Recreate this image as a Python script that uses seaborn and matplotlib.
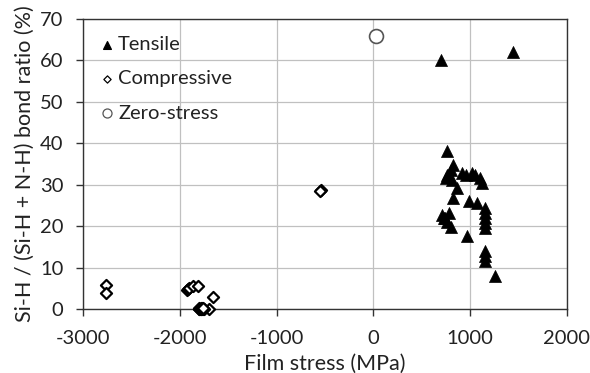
import matplotlib
matplotlib.use("Agg")
import matplotlib.pyplot as plt
import seaborn as sns
import pandas as pd

# Tensile
tensile_x = [700, 1440, 764, 824, 797, 764, 747, 916, 1017, 1051, 1101, 1118, 814,
             865, 824, 983, 1068, 1152, 1152, 1152, 1152, 1152, 713, 780, 730, 764,
             797, 966, 1152, 1152, 1152, 1253, 960, 740]
tensile_y = [60, 62, 38.2, 34.8, 33.6, 32.4, 31.6, 32.8, 32.8, 32.4, 31.6, 30.5, 31.2,
             29.2, 26.7, 26.0, 25.5, 24.3, 23.1, 22.0, 20.8, 19.5, 22.7, 23.1, 21.9, 21.1,
             19.9, 17.7, 14.1, 12.9, 11.6, 7.9, 32.4, 22.0]
# Compressive
comp_x = [-2766, -2766, -1928, -1915, -1900, -1866, -1814, -1653, -1695,
          -1805, -1797, -1790, -1783, -1776, -1769, -1762, -1755,
          -1800, -1786, -1772, -1758, -545, -555]
comp_y = [5.7, 3.9, 4.5, 4.9, 5.1, 5.5, 5.5, 2.9, 0.0,
          0.0, 0.0, 0.0, 0.0, 0.0, 0.0, 0.0, 0.0,
          0.3, 0.3, 0.3, 0.3, 28.8, 28.6]
# Zero-stress
zero_x = [30]
zero_y = [66]

x_ticks = [-3000, -2000, -1000, 0, 1000, 2000]
y_ticks = [0, 10, 20, 30, 40, 50, 60, 70]

sns.set_theme(style="white")
plt.rcParams['font.family'] = ['Lato', 'DejaVu Sans']
plt.rcParams['axes.unicode_minus'] = False

fig = plt.figure(figsize=(5.9, 3.73), dpi=100)
ax = fig.add_axes([83 / 590, 1 - 309 / 373, (567 - 83) / 590, (309 - 19) / 373])

df_t = pd.DataFrame({"x": tensile_x, "y": tensile_y})
df_c = pd.DataFrame({"x": comp_x, "y": comp_y})
df_z = pd.DataFrame({"x": zero_x, "y": zero_y})

sns.scatterplot(data=df_t, x="x", y="y", ax=ax, marker="^", s=75, color="black",
                edgecolor="black", linewidth=0.5, label="Tensile", zorder=3, clip_on=False)
sns.scatterplot(data=df_c, x="x", y="y", ax=ax, marker="D", s=32, facecolor="white",
                edgecolor="black", linewidth=1.6, label="Compressive", zorder=3, clip_on=False)
sns.scatterplot(data=df_z, x="x", y="y", ax=ax, marker="o", s=100, facecolor="white",
                edgecolor="#555555", linewidth=1.2, label="Zero-stress", zorder=3, clip_on=False)

ax.set_xlim(-3000, 2000)
ax.set_ylim(0, 70)
ax.set_xticks(x_ticks)
ax.set_yticks(y_ticks)
ax.grid(True, color="#c0c0c0", linewidth=0.9)
ax.set_axisbelow(True)
for s in ["top", "right", "left", "bottom"]:
    ax.spines[s].set_color("#333333")
    ax.spines[s].set_linewidth(1.0)
ax.tick_params(axis="both", which="both", direction="out", length=5, width=1,
               color="#333333", labelsize=14.5, labelcolor="#222222", bottom=True, left=True)
ax.tick_params(axis="x", pad=10)
ax.tick_params(axis="y", pad=9)
ax.set_xlabel("Film stress (MPa)", fontsize=15.5, color="#222222", labelpad=5)
ax.set_ylabel("Si-H / (Si-H + N-H) bond ratio (%)", fontsize=15.5, color="#222222", labelpad=4)

leg = ax.legend(loc="upper left", frameon=False, fontsize=14.5, handletextpad=0.05,
                labelspacing=0.85, borderaxespad=0.3, handlelength=1.0, markerscale=0.65,
                bbox_to_anchor=(0.0, 0.99))
for t in leg.get_texts():
    t.set_color("#222222")
for h in leg.legend_handles:
    try:
        h.set_linewidth(0.9)
    except Exception:
        pass

fig.savefig("out.png", dpi=100)
